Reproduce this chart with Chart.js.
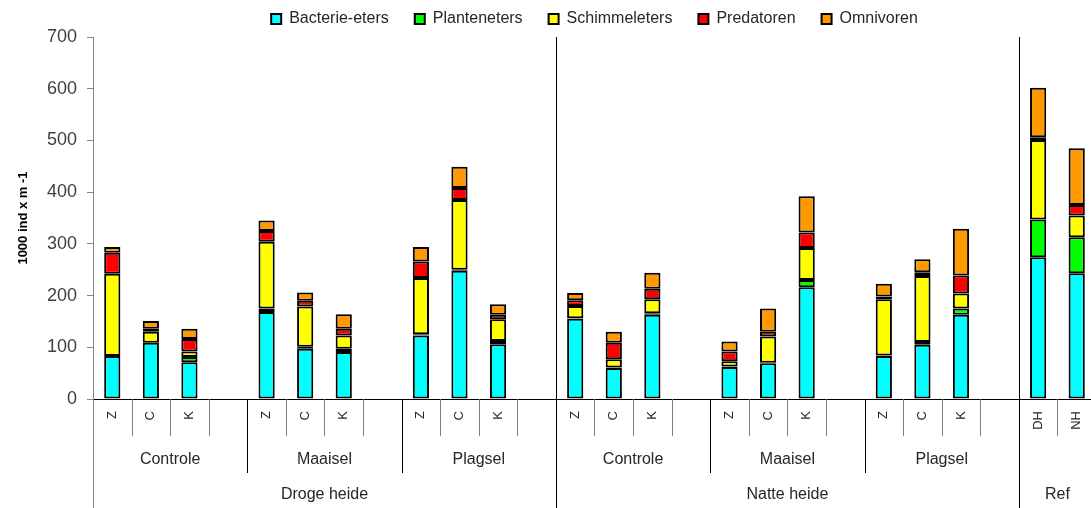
<!DOCTYPE html>
<html>
<head>
<meta charset="utf-8">
<script src="https://cdn.jsdelivr.net/npm/chart.js@4/dist/chart.umd.min.js"></script>
<style>
  html, body { margin: 0; padding: 0; background: #fff; overflow: hidden; }
  /* the original plot runs a few pixels past the right edge of the picture */
  #wrap { width: 1096px; height: 508px; position: relative; }
</style>
</head>
<body>
<div id="wrap"><canvas id="chart"></canvas></div>
<script>
// categories (blank slots separate the groups)
const tickLabels = ['Z', 'C', 'K', '', 'Z', 'C', 'K', '', 'Z', 'C', 'K', '',
                    'Z', 'C', 'K', '', 'Z', 'C', 'K', '', 'Z', 'C', 'K', '', 'DH', 'NH'];
const groupLabels = ['Controle', 'Maaisel', 'Plagsel', 'Controle', 'Maaisel', 'Plagsel', ''];
const groupSizes = [4, 4, 4, 4, 4, 4, 2];
const topLabels = ['Droge heide', 'Natte heide', 'Ref'];
const topSizes = [12, 12, 2];

// series values (1000 ind x m-1)
const bacterieEters = [83, 109, 71, null, 168, 97, 91, null, 123, 248, 106, null,
                       155, 60, 163, null, 62, 69, 216, null, 83, 105, 163, null, 274, 243];
const planteneters  = [0, 0, 10, null, 7, 4, 6, null, 2, 2, 6, null,
                       1, 1, 3, null, 1, 1, 14, null, 1, 5, 12, null, 73, 70];
const schimmeleters = [159, 21, 11, null, 129, 78, 26, null, 109, 135, 42, null,
                       24, 16, 27, null, 10, 51, 62, null, 109, 128, 29, null, 154, 42];
const predatoren    = [41, 6, 24, null, 21, 11, 13, null, 32, 23, 9, null,
                       11, 32, 20, null, 19, 9, 30, null, 5, 7, 35, null, 5, 20];
const omnivoren     = [11, 15, 20, null, 20, 16, 28, null, 28, 41, 20, null,
                       14, 21, 31, null, 19, 45, 70, null, 25, 25, 90, null, 96, 110];

const FONT = 'Liberation Sans';

function ds(label, data, color) {
  return {
    label: label,
    data: data,
    backgroundColor: color,
    borderColor: '#000',
    borderWidth: 2,
    borderSkipped: false,
    barPercentage: 0.42,
    categoryPercentage: 1
  };
}

// multi-level x axis: separators and group texts
const groupAxis = {
  id: 'groupAxis',
  afterDraw(chart) {
    const ctx = chart.ctx;
    const x = chart.scales.x;
    const area = chart.chartArea;
    const step = x.getPixelForValue(1) - x.getPixelForValue(0);
    const edge = i => x.getPixelForValue(0) - step / 2 + i * step;
    const y0 = area.bottom;

    const groupStarts = [];
    let s = 0;
    groupSizes.forEach(n => { groupStarts.push(s); s += n; });
    const topStarts = [];
    s = 0;
    topSizes.forEach(n => { topStarts.push(s); s += n; });

    ctx.save();
    ctx.lineWidth = 1;
    // short ticks between categories
    ctx.strokeStyle = '#808080';
    for (let i = 0; i < tickLabels.length; i++) {
      if (groupStarts.includes(i)) continue;
      const px = Math.round(edge(i)) + 0.5;
      ctx.beginPath(); ctx.moveTo(px, y0); ctx.lineTo(px, y0 + 37); ctx.stroke();
    }
    // group separators
    ctx.strokeStyle = '#000';
    groupStarts.forEach(i => {
      if (topStarts.includes(i)) return;
      const px = Math.round(edge(i)) + 0.5;
      ctx.beginPath(); ctx.moveTo(px, y0); ctx.lineTo(px, y0 + 74); ctx.stroke();
    });
    // top-level separators, through the plot too
    topStarts.forEach(i => {
      const px = Math.round(edge(i)) + 0.5;
      ctx.strokeStyle = i === 0 ? '#868686' : '#000';
      ctx.beginPath();
      ctx.moveTo(px, i === 0 ? y0 : area.top);
      ctx.lineTo(px, chart.height);
      ctx.stroke();
    });

    ctx.fillStyle = '#262626';
    ctx.textAlign = 'center';
    ctx.textBaseline = 'middle';
    ctx.font = '16px "' + FONT + '"';
    groupLabels.forEach((t, k) => {
      const c = (edge(groupStarts[k]) + edge(groupStarts[k] + groupSizes[k])) / 2;
      ctx.fillText(t, c, y0 + 61);
    });
    topLabels.forEach((t, k) => {
      const c = (edge(topStarts[k]) + edge(topStarts[k] + topSizes[k])) / 2;
      ctx.fillText(t, c, y0 + 96);
    });
    ctx.restore();
  }
};

new Chart(document.getElementById('chart'), {
  type: 'bar',
  data: {
    labels: tickLabels,
    datasets: [
      ds('Bacterie-eters', bacterieEters, '#00FFFF'),
      ds('Planteneters', planteneters, '#00FF00'),
      ds('Schimmeleters', schimmeleters, '#FFFF00'),
      ds('Predatoren', predatoren, '#FF0000'),
      ds('Omnivoren', omnivoren, '#FF9900')
    ]
  },
  options: {
    responsive: true,
    maintainAspectRatio: false,
    animation: false,
    layout: { padding: { top: -15, right: 0, bottom: 0, left: 0 } },
    plugins: {
      legend: {
        position: 'top',
        fullSize: false,
        labels: {
          boxWidth: 10,
          boxHeight: 10,
          padding: 26,
          color: '#262626',
          font: { family: FONT, size: 16 }
        }
      },
      tooltip: { enabled: false }
    },
    scales: {
      x: {
        stacked: true,
        grid: { display: false, drawTicks: false },
        border: { color: '#000', width: 1 },
        ticks: {
          autoSkip: false,
          minRotation: 90,
          maxRotation: 90,
          padding: 12,
          color: '#262626',
          font: { family: FONT, size: 13 }
        },
        afterFit(scale) {
          scale.height = 109;
          scale.paddingLeft = 0;
          scale.paddingRight = 0;
        }
      },
      y: {
        stacked: true,
        min: 0,
        max: 700,
        grid: { drawOnChartArea: false, drawTicks: true, tickLength: 6, color: '#868686' },
        border: { color: '#868686', width: 1 },
        ticks: {
          stepSize: 100,
          padding: 10,
          color: '#404040',
          font: { family: FONT, size: 18 }
        },
        title: {
          display: true,
          text: '1000 ind x m -1',
          color: '#000',
          padding: { top: 16, bottom: 0 },
          font: { family: FONT, size: 13, weight: 'bold' }
        },
        afterFit(scale) {
          scale.width = 93;
          scale.paddingTop = 0;
          scale.paddingBottom = 0;
        }
      }
    }
  },
  plugins: [groupAxis]
});
</script>
</body>
</html>
